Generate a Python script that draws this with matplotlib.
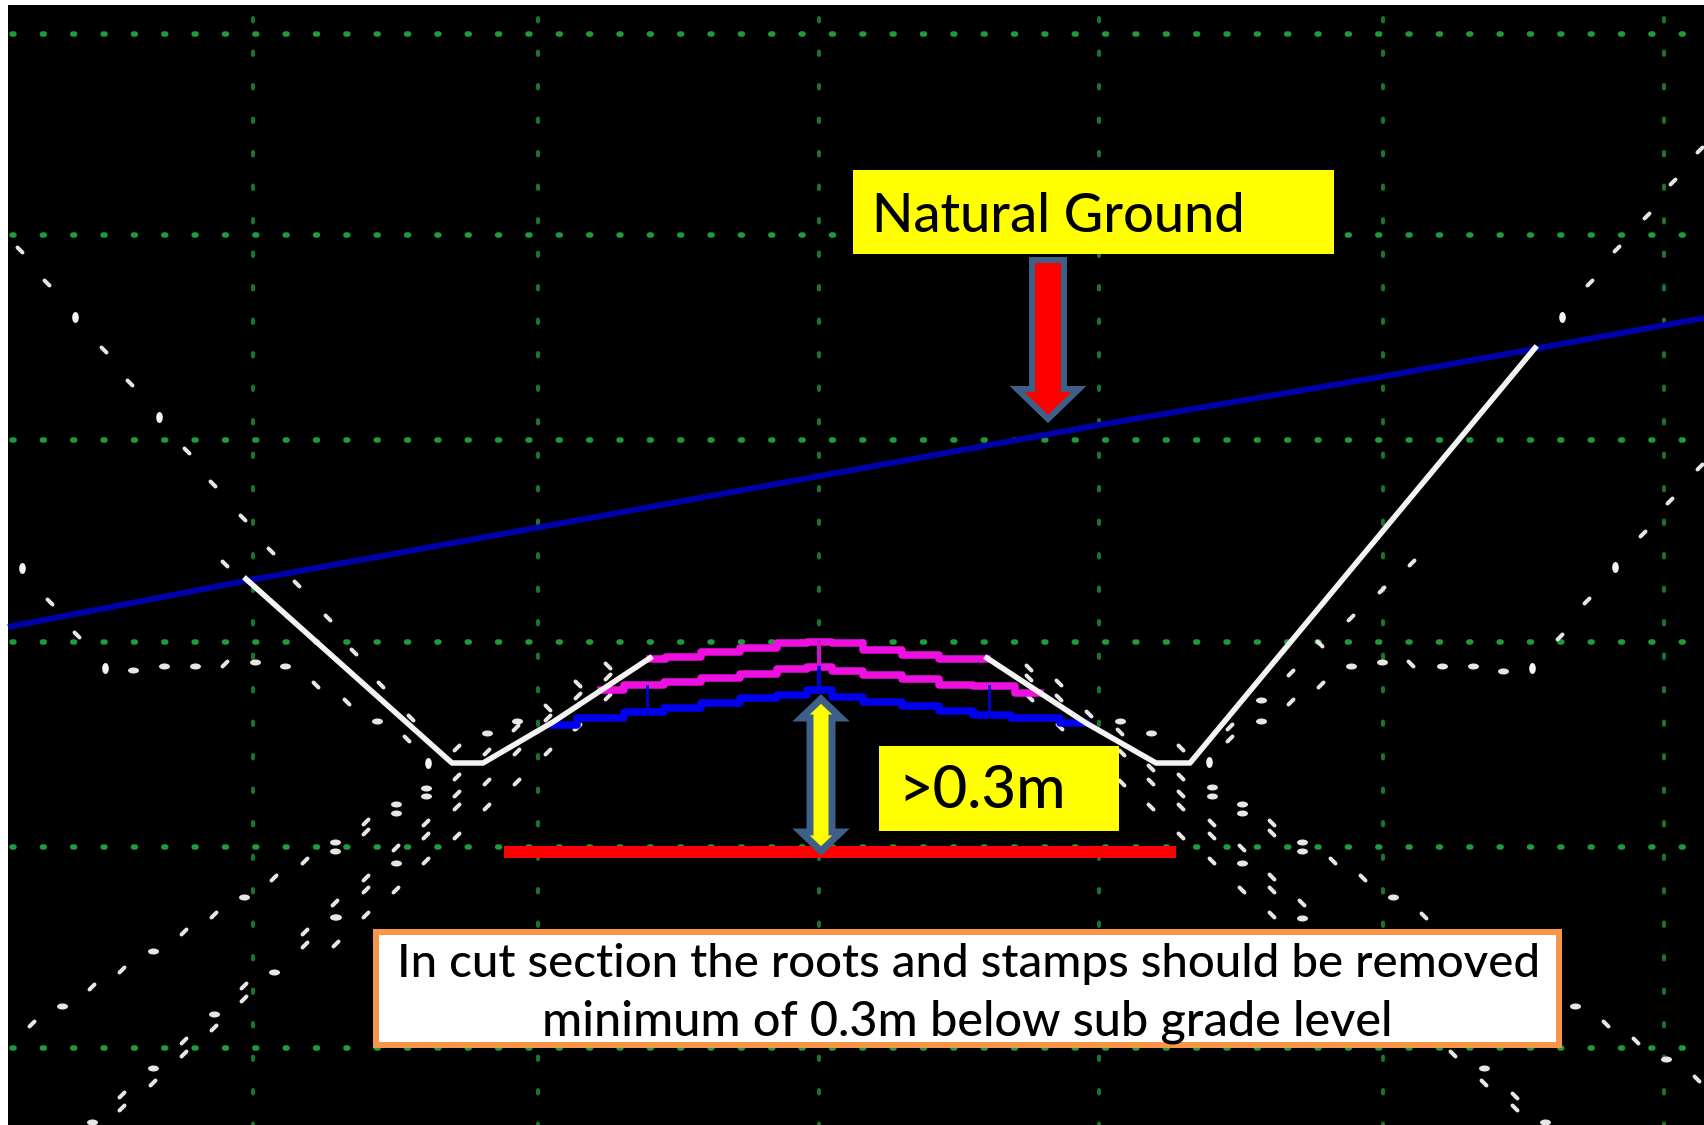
import matplotlib
matplotlib.use("Agg")
import matplotlib.pyplot as plt
from matplotlib.path import Path
from matplotlib.patches import Polygon, Rectangle

# ---- pixel-space layout of the screenshot ----
FIG_W, FIG_H = 1704, 1125
PX = 72 / 100  # points per pixel at dpi 100

# grid
grid_h_y = [34, 235, 440, 642, 847, 1048]
grid_v_x = [253, 538, 819, 1099, 1383, 1664]

# terrain and road profile
ground_x = [8, 245, 1099, 1380, 1704]
ground_y = [627, 581, 425, 377, 318]
road_x = [246, 452, 483, 553, 650]
road_y = [579, 763, 763, 722, 658]
road_r_x = [987, 1086, 1156, 1190, 1535]
road_r_y = [658, 723, 763, 763, 348]

# pavement layers
crown_top_x = [650, 681, 720, 759, 795, 819, 844, 882, 921, 957, 987]
crown_top_y = [659, 657, 652, 648, 643, 642, 643, 650, 655, 659, 659]
crown_mid_x = [601, 647, 681, 720, 759, 795, 819, 844, 882, 921, 957, 989, 1040]
crown_mid_y = [690, 685, 682, 678, 674, 669, 667, 671, 675, 679, 685, 686, 693]
crown_low_x = [553, 601, 647, 681, 720, 759, 795, 819, 844, 882, 921, 957, 989, 1033, 1086]
crown_low_y = [725, 718, 712, 708, 703, 698, 695, 690, 697, 702, 706, 711, 715, 718, 723]

# scattered cross-section tick marks
back_x = [20, 47, 104, 130, 187, 213, 243, 271, 225, 297, 328, 354, 316, 381, 50, 77, 347, 411, 407,
          1029, 1029, 1059, 1059, 1089, 1120, 1030, 1060, 1122, 1151, 1122, 1151, 1151, 1181, 1181, 1181, 1181, 1181,
          1212, 1212, 1212, 1242, 1242, 1272, 1272, 1272, 1272, 1272, 1302, 1333, 1363, 1424, 1320, 1411,
          1606, 1636, 1697, 1453, 1484, 1515, 1515, 608, 578, 548]
back_y = [250, 283, 350, 383, 451, 484, 518, 551, 564, 584, 618, 652, 685, 685, 602, 635, 702, 718, 739,
          668, 678, 683, 698, 714, 732, 698, 727, 753, 768, 783, 782, 807, 748, 777, 794, 807, 836,
          823, 836, 861, 848, 890, 823, 833, 877, 890, 915, 903, 861, 878, 916, 644, 664,
          1024, 1041, 1079, 1054, 1083, 1096, 1108, 666, 684, 708]
fwd_x = [225, 457, 457, 457, 457, 487, 487, 517, 548, 578, 517, 426, 426, 457, 426, 396, 366, 366,
         305, 274, 366, 366, 396, 335, 366, 214, 184, 122, 92, 32, 336, 305, 305, 244, 244, 214, 184, 184,
         153, 122, 122, 608, 577, 1230, 1230, 1291, 1321, 1291, 1700, 1673, 1647, 1617, 1590,
         1700, 1670, 1643, 1587, 1412, 1382, 1351, 1560, 608, 578, 548, 516, 487]
fwd_y = [664, 748, 777, 794, 807, 782, 807, 782, 752, 727, 752, 823, 836, 836, 861, 848, 822, 832,
         861, 878, 878, 890, 890, 903, 915, 915, 932, 970, 987, 1024, 944, 932, 945, 986, 999, 1028, 1041, 1054,
         1083, 1095, 1108, 697, 727, 727, 739, 673, 685, 702, 150, 182, 216, 249, 283,
         467, 501, 534, 601, 563, 590, 618, 637, 677, 696, 718, 728, 752]
flat_x = [133, 164, 195, 255, 285, 377, 487, 517, 426, 426, 396, 396, 335, 335, 396, 244, 335,
          153, 62, 274, 214, 336, 153, 92, 1120, 1151, 1212, 1212, 1242, 1242, 1242, 1261, 1261, 1302, 1302, 1302,
          1393, 1351, 1382, 1442, 1473, 1503, 1575, 1666, 1484, 1545]
flat_y = [670, 666, 666, 662, 666, 721, 733, 721, 788, 796, 804, 813, 842, 851, 863, 897, 917,
          951, 1006, 972, 1014, 917, 1068, 1122, 721, 733, 787, 796, 804, 813, 863, 700, 721, 842, 851, 918,
          897, 666, 662, 666, 666, 671, 1006, 1059, 1068, 1122]
tall_x = [75, 159, 22, 105, 1562, 1615, 1532, 428, 1209]
tall_y = [317, 417, 568, 668, 317, 567, 668, 763, 762]

# annotations
natural_box = [853, 170, 481, 84]
height_box = [879, 746, 240, 85]
note_box = [376, 932, 1183, 113]
subgrade_x = [504, 1176]
subgrade_y = [852, 852]
down_arrow_x = [1032, 1064, 1064, 1079, 1048, 1017, 1032]
down_arrow_y = [260, 260, 389, 389, 419, 389, 389]
double_arrow_x = [821, 841, 832, 832, 841, 821, 801, 810, 810, 801]
double_arrow_y = [699, 718, 718, 832, 832, 851, 832, 832, 718, 718]

label_natural = "Natural Ground"
label_height = ">0.3m"
note_line1 = "In cut section the roots and stamps should be removed"
note_line2 = "minimum of 0.3m below sub grade level"

plt.rcParams["font.family"] = ["Lato", "DejaVu Sans"]
plt.rcParams["lines.scale_dashes"] = False

fig = plt.figure(figsize=(FIG_W / 100, FIG_H / 100), dpi=100, facecolor="white")
ax = fig.add_axes([0, 0, 1, 1])
ax.set_xlim(0, FIG_W)
ax.set_ylim(FIG_H, 0)
ax.axis("off")

ax.add_patch(Rectangle((8, 5), FIG_W - 8, FIG_H - 5, facecolor="black", edgecolor="none", zorder=0))

# dotted grid
ax.hlines(grid_h_y, 11.7, 1686, colors="#1f9a3c", linewidth=5.5 * PX,
          linestyles=[(0, (2 * PX, 28.35 * PX))], capstyle="round", zorder=1)
ax.vlines(grid_v_x, 17.5, FIG_H, colors="#17762c", linewidth=4 * PX,
          linestyles=[(0, (3.5 * PX, 30 * PX))], capstyle="round", zorder=1)

# tick marks
slash_back = Path([(-1, 1), (1, -1)])
slash_fwd = Path([(-1, -1), (1, 1)])
circle = Path.unit_circle()
ellipse_flat = Path(circle.vertices * [1.0, 0.55], circle.codes)
ellipse_tall = Path(circle.vertices * [0.6, 1.0], circle.codes)
mark = "#e6e6e6"
ax.scatter(back_x, back_y, s=(5 * PX) ** 2, marker=slash_back, facecolors="none", edgecolors=mark,
           linewidths=4 * PX, capstyle="round", zorder=2)
ax.scatter(fwd_x, fwd_y, s=(5 * PX) ** 2, marker=slash_fwd, facecolors="none", edgecolors=mark,
           linewidths=4 * PX, capstyle="round", zorder=2)
ax.scatter(flat_x, flat_y, s=(11 * PX) ** 2, marker=ellipse_flat, color=mark, linewidths=0, zorder=2)
ax.scatter(tall_x, tall_y, s=(11 * PX) ** 2, marker=ellipse_tall, color="#f4f4f4", linewidths=0, zorder=2)

# ground line
ax.plot(ground_x, ground_y, color="#0000a8", lw=6 * PX, solid_capstyle="butt", zorder=3)

# pavement
ax.plot(crown_low_x, crown_low_y, color="#0000ee", lw=7.5 * PX, drawstyle="steps-mid", zorder=4)
ax.plot(crown_mid_x, crown_mid_y, color="#ee10e0", lw=7.5 * PX, drawstyle="steps-mid", zorder=4)
ax.plot(crown_top_x, crown_top_y, color="#ee10e0", lw=7.5 * PX, drawstyle="steps-mid", zorder=4)
ax.plot([819, 819], [642, 668], color="#d010d0", lw=4 * PX, zorder=4)
ax.plot([819, 819], [668, 692], color="#0000d8", lw=4 * PX, zorder=4)
ax.plot([647, 647], [686, 712], color="#0000c8", lw=3 * PX, zorder=4)
ax.plot([989, 989], [686, 715], color="#0000c8", lw=3 * PX, zorder=4)

# road edges
ax.plot(road_x, road_y, color="#f4f4f4", lw=5.5 * PX, solid_joinstyle="round", zorder=5)
ax.plot(road_r_x, road_r_y, color="#f4f4f4", lw=5.5 * PX, solid_joinstyle="round", zorder=5)

# annotations
ax.plot(subgrade_x, subgrade_y, color="#ff0000", lw=12 * PX, solid_capstyle="butt", zorder=6)
for box in (natural_box, height_box):
    ax.add_patch(Rectangle(box[:2], box[2], box[3], facecolor="#ffff00", edgecolor="none", zorder=6))
ax.add_patch(Polygon(list(zip(down_arrow_x, down_arrow_y)), closed=True, facecolor="#ff0000",
                     edgecolor="#3e6088", linewidth=6 * PX, joinstyle="miter", zorder=7))
ax.add_patch(Polygon(list(zip(double_arrow_x, double_arrow_y)), closed=True, facecolor="#ffff00",
                     edgecolor="#3e6088", linewidth=7 * PX, joinstyle="miter", zorder=7))
ax.add_patch(Rectangle(note_box[:2], note_box[2], note_box[3], facecolor="white", edgecolor="#f79646",
                       linewidth=6 * PX, zorder=7))

ax.text(872, 232, label_natural, fontsize=39, fontweight="medium", color="black", va="baseline", ha="left", zorder=8)
ax.text(898, 808, label_height, fontsize=43, fontweight="medium", color="black", va="baseline", ha="left", zorder=8)
ax.text(397, 977, note_line1, fontsize=34.1, fontweight="medium", color="black", va="baseline", ha="left", zorder=8)
ax.text(542, 1035, note_line2, fontsize=35, fontweight="medium", color="black", va="baseline", ha="left", zorder=8)

fig.savefig("out.png", dpi=100, facecolor="white")
